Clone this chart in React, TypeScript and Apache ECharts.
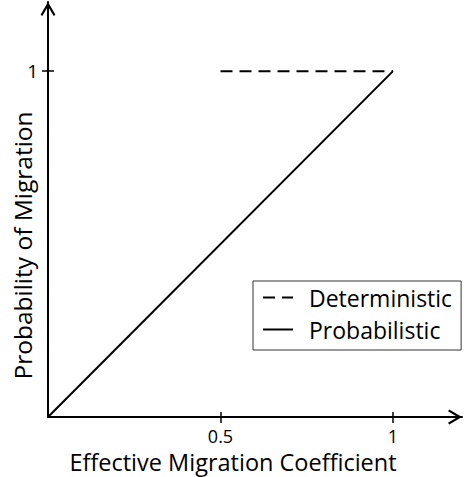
import React, { useEffect, useRef } from "react";
import * as echarts from "echarts";

const xTickValues = [0.5, 1];
const yTickValues = [1];
const deterministicLow = [[0, 0], [0.5, 0]];
const deterministicHigh = [[0.5, 1], [1, 1]];
const probabilistic = [[0, 0], [1, 1]];
const seriesNames = ["Deterministic", "Probabilistic"];
const xName = "Effective Migration Coefficient";
const yName = "Probability of Migration";

const FONT = "Open Sans";
const ARROW = "path://M7,0 L14,12 L12.4,13.2 L7,4.2 L1.6,13.2 L0,12 Z";

export default function App() {
  const ref = useRef<HTMLDivElement>(null);
  useEffect(() => {
    if (!ref.current) return;
    const chart = echarts.init(ref.current, null, { renderer: "svg" });
    const axisLineStyle = { color: "#000", width: 2 };
    chart.setOption({
      animation: false,
      backgroundColor: "#fff",
      grid: { left: 48, right: 2, top: 2, bottom: 60, outerBoundsMode: "none" },
      legend: {
        data: seriesNames,
        orient: "vertical",
        left: 253,
        top: 281,
        itemWidth: 30,
        itemHeight: 14,
        itemGap: 9,
        padding: [5, 9, 9, 9],
        borderColor: "#333",
        borderWidth: 1,
        backgroundColor: "#fff",
        itemStyle: { opacity: 0 },
        textStyle: { fontFamily: FONT, fontSize: 23, lineHeight: 23, color: "#000", padding: [0, 0, 0, 11] },
      },
      xAxis: [
        {
          type: "value",
          min: 0,
          max: 1.2,
          splitLine: { show: false },
          axisLine: {
            show: true,
            lineStyle: axisLineStyle,
            symbol: ["none", ARROW],
            symbolSize: [15, 14],
            symbolOffset: [0, -7],
          },
          axisTick: { show: true, length: 6, customValues: xTickValues, lineStyle: { color: "#000", width: 1.5 } },
          axisLabel: {
            customValues: xTickValues,
            margin: 11,
            fontFamily: FONT,
            fontSize: 18,
            lineHeight: 16,
            color: "#000",
            formatter: (v: number) => String(v),
          },
          name: xName,
          nameLocation: "middle",
          nameGap: 34,
          nameMoveOverlap: false,
          nameTextStyle: { fontFamily: FONT, fontSize: 23.5, lineHeight: 21, color: "#000", padding: [0, 44, 0, 0] },
        },
        {
          type: "value",
          min: 0,
          max: 1.2,
          position: "bottom",
          splitLine: { show: false },
          axisLine: { show: false },
          axisTick: { show: true, inside: true, length: 5, customValues: xTickValues, lineStyle: { color: "#000", width: 1.5 } },
          axisLabel: { show: false },
        },
      ],
      yAxis: [
        {
          type: "value",
          min: 0,
          max: 1.2,
          splitLine: { show: false },
          axisLine: {
            show: true,
            lineStyle: axisLineStyle,
            symbol: ["none", ARROW],
            symbolSize: [15, 14],
            symbolOffset: [0, -7],
          },
          axisTick: { show: true, length: 6, customValues: yTickValues, lineStyle: { color: "#000", width: 1.5 } },
          axisLabel: {
            customValues: yTickValues,
            margin: 10,
            fontFamily: FONT,
            fontSize: 19,
            color: "#000",
            formatter: (v: number) => String(v),
          },
          name: yName,
          nameLocation: "middle",
          nameGap: 13,
          nameMoveOverlap: false,
          nameTextStyle: { fontFamily: FONT, fontSize: 24.5, color: "#000", padding: [0, 72, 0, 0] },
        },
        {
          type: "value",
          min: 0,
          max: 1.2,
          position: "left",
          splitLine: { show: false },
          axisLine: { show: false },
          axisTick: { show: true, inside: true, length: 6, customValues: yTickValues, lineStyle: { color: "#000", width: 1.5 } },
          axisLabel: { show: false },
        },
      ],
      series: [
        {
          name: seriesNames[0],
          type: "line",
          data: deterministicLow,
          symbol: "none",
          color: "#000",
          lineStyle: { color: "#000", width: 2, type: [12, 7] },
        },
        {
          name: seriesNames[0],
          type: "line",
          data: deterministicHigh,
          symbol: "none",
          color: "#000",
          lineStyle: { color: "#000", width: 2, type: [12, 7] },
        },
        {
          name: seriesNames[1],
          type: "line",
          data: probabilistic,
          symbol: "none",
          color: "#000",
          lineStyle: { color: "#000", width: 2, type: "solid" },
        },
      ],
    });
    return () => chart.dispose();
  }, []);
  return <div ref={ref} style={{ width: 464, height: 477, position: "absolute", left: 0, top: 0 }} />;
}
